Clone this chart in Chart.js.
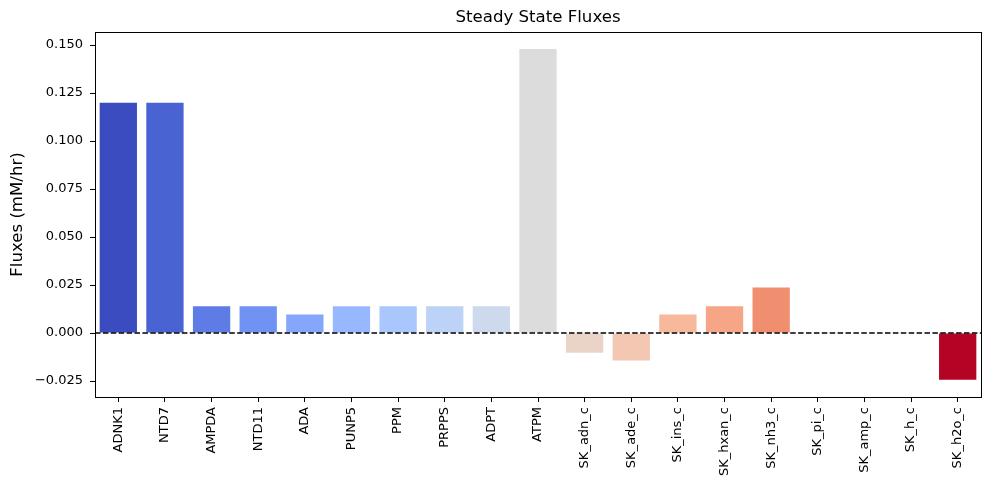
<!DOCTYPE html>
<html>
<head>
<meta charset="utf-8">
<script src="https://cdn.jsdelivr.net/npm/chart.js@4/dist/chart.umd.min.js"></script>
<style>
html,body{margin:0;padding:0;background:#fff;}
canvas{display:block;}
</style>
</head>
<body>
<canvas id="c" width="989" height="490"></canvas>
<script>
const categories = ["ADNK1","NTD7","AMPDA","NTD11","ADA","PUNP5","PPM","PRPPS","ADPT","ATPM","SK_adn_c","SK_ade_c","SK_ins_c","SK_hxan_c","SK_nh3_c","SK_pi_c","SK_amp_c","SK_h_c","SK_h2o_c"];
const fluxes = [0.12, 0.12, 0.014, 0.014, 0.0097, 0.014, 0.014, 0.014, 0.014, 0.148, -0.0103, -0.0143, 0.0097, 0.014, 0.0237, 0, 0, 0, -0.0243];
const barColors = ["#3b4cc0","#4a63d3","#5d7ce6","#7093f3","#84a7fc","#97b8ff","#aac7fd","#bcd2f7","#cdd9ec","#dddcdc","#ead4c8","#f3c7b1","#f7b89c","#f6a586","#f08f6f","#e97a5f","#dc5d4a","#c83836","#b40426"];
const yTicks = [-0.025, 0, 0.025, 0.05, 0.075, 0.1, 0.125, 0.15];
const yMin = -0.0333, yMax = 0.1568;
const chartTitle = 'Steady State Fluxes';

const FONT = "'DejaVu Sans', sans-serif";

const framePlugin = {
  id: 'frame',
  afterDatasetsDraw(chart) {
    const {ctx, chartArea: a, scales} = chart;
    const y0 = scales.y.getPixelForValue(0);
    ctx.save();
    ctx.strokeStyle = '#000';
    ctx.lineWidth = 1.5;
    ctx.setLineDash([5.5, 2.4]);
    ctx.beginPath();
    ctx.moveTo(a.left, y0);
    ctx.lineTo(a.right, y0);
    ctx.stroke();
    ctx.setLineDash([]);
    ctx.lineWidth = 1;
    ctx.strokeRect(Math.round(a.left) + 0.5, Math.round(a.top) + 0.5, Math.round(a.right - a.left), Math.round(a.bottom - a.top));
    ctx.fillStyle = '#000';
    ctx.font = '16.6px ' + FONT;
    ctx.textAlign = 'center';
    ctx.textBaseline = 'middle';
    ctx.fillText(chartTitle, (a.left + a.right) / 2, 18);
    ctx.restore();
  }
};

new Chart(document.getElementById('c'), {
  type: 'bar',
  data: {
    labels: categories,
    datasets: [{
      data: fluxes,
      backgroundColor: barColors,
      borderWidth: 0,
      barPercentage: 0.8,
      categoryPercentage: 1.0
    }]
  },
  options: {
    responsive: false,
    animation: false,
    devicePixelRatio: 1,
    layout: {padding: {left: 0, right: 8, top: 32, bottom: 0}},
    plugins: {
      legend: {display: false},
      tooltip: {enabled: false},
      title: {display: false}
    },
    scales: {
      x: {
        type: 'category',
        offset: true,
        grid: {display: true, drawOnChartArea: false, drawTicks: true, tickLength: 5, color: '#000', offset: false},
        border: {display: true, color: '#000'},
        ticks: {
          color: '#000',
          font: {family: FONT, size: 13},
          minRotation: 90,
          maxRotation: 90,
          autoSkip: false,
          padding: 5
        },
        afterFit(scale) { scale.height = 93; }
      },
      y: {
        type: 'linear',
        min: yMin,
        max: yMax,
        afterBuildTicks(scale) {
          scale.ticks = yTicks.map(v => ({value: v}));
        },
        grid: {display: true, drawOnChartArea: false, drawTicks: true, tickLength: 5, color: '#000'},
        border: {display: true, color: '#000'},
        ticks: {
          color: '#000',
          font: {family: FONT, size: 13},
          padding: 7,
          callback: v => (v < 0 ? '\u2212' : '') + Math.abs(v).toFixed(3)
        },
        title: {
          display: true,
          text: 'Fluxes (mM/hr)',
          color: '#000',
          font: {family: FONT, size: 16.6},
          padding: {top: 8, bottom: 0}
        },
        afterFit(scale) { scale.width = 95; }
      }
    }
  },
  plugins: [framePlugin]
});
</script>
</body>
</html>
